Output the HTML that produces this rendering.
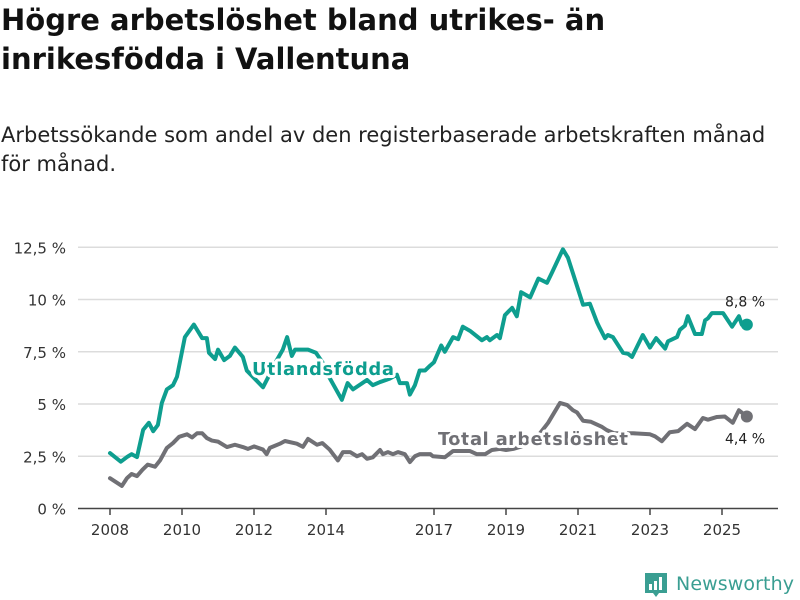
<!DOCTYPE html>
<html><head><meta charset="utf-8"><style>
body{margin:0;background:#fff;font-family:"DejaVu Sans","Liberation Sans",sans-serif;}
#wrap{position:relative;width:800px;height:600px;overflow:hidden;}
h1{position:absolute;left:1px;top:1px;margin:0;font-size:29px;line-height:39px;font-weight:bold;color:#111;width:800px;white-space:nowrap}
.sub{position:absolute;left:1px;top:121px;margin:0;font-size:21px;line-height:29px;color:#222;width:800px;white-space:nowrap}
svg{position:absolute;left:0;top:0;font-family:"DejaVu Sans","Liberation Sans",sans-serif}
</style></head><body><div id="wrap">
<h1>Högre arbetslöshet bland utrikes- än<br>inrikesfödda i Vallentuna</h1>
<p class="sub">Arbetssökande som andel av den registerbaserade arbetskraften månad<br>för månad.</p>
<svg id="chart" width="800" height="600"></svg>
</div>
<script>
const yTicks=[0,2.5,5,7.5,10,12.5];
const yTickLabels=["0 %","2,5 %","5 %","7,5 %","10 %","12,5 %"];
const xTicks=[2008,2010,2012,2014,2017,2019,2021,2023,2025];
const foreignDates=[2008.0,2008.3,2008.47,2008.6,2008.75,2008.92,2009.08,2009.2,2009.33,2009.44,2009.58,2009.75,2009.86,2010.08,2010.33,2010.56,2010.69,2010.75,2010.92,2011.0,2011.17,2011.33,2011.47,2011.69,2011.8,2011.97,2012.25,2012.4,2012.6,2012.8,2012.92,2013.05,2013.14,2013.5,2013.72,2013.9,2014.1,2014.44,2014.6,2014.75,2015.14,2015.3,2015.5,2015.75,2015.97,2016.05,2016.25,2016.33,2016.47,2016.6,2016.75,2016.9,2017.0,2017.2,2017.3,2017.53,2017.67,2017.8,2018.0,2018.33,2018.47,2018.55,2018.75,2018.83,2018.97,2019.17,2019.3,2019.42,2019.67,2019.9,2020.14,2020.28,2020.58,2020.72,2020.86,2021.14,2021.33,2021.53,2021.6,2021.75,2021.83,2021.97,2022.25,2022.39,2022.5,2022.8,2023.0,2023.17,2023.42,2023.5,2023.75,2023.83,2023.97,2024.05,2024.25,2024.44,2024.53,2024.61,2024.72,2025.03,2025.28,2025.47,2025.55,2025.69];
const foreignValues=[2.65,2.24,2.46,2.6,2.46,3.76,4.1,3.7,4.0,5.05,5.7,5.9,6.3,8.2,8.8,8.15,8.15,7.45,7.15,7.6,7.1,7.3,7.7,7.25,6.6,6.3,5.8,6.3,7.0,7.6,8.2,7.3,7.6,7.6,7.45,7.0,6.25,5.2,6.0,5.7,6.15,5.9,6.05,6.2,6.4,6.0,6.0,5.45,5.9,6.6,6.6,6.85,7.0,7.8,7.5,8.2,8.1,8.7,8.5,8.05,8.2,8.05,8.3,8.15,9.25,9.6,9.2,10.35,10.1,11.0,10.8,11.3,12.4,12.0,11.25,9.75,9.8,8.9,8.65,8.15,8.3,8.2,7.45,7.4,7.25,8.3,7.7,8.15,7.65,8.0,8.2,8.55,8.75,9.2,8.35,8.35,9.0,9.1,9.35,9.35,8.7,9.2,8.8,8.8];
const totalDates=[2008.0,2008.33,2008.47,2008.6,2008.75,2008.9,2009.05,2009.25,2009.39,2009.58,2009.75,2009.92,2010.14,2010.28,2010.42,2010.56,2010.69,2010.83,2011.0,2011.25,2011.47,2011.69,2011.83,2012.0,2012.25,2012.35,2012.44,2012.72,2012.86,2013.19,2013.36,2013.5,2013.75,2013.9,2014.1,2014.33,2014.47,2014.67,2014.86,2015.0,2015.14,2015.3,2015.5,2015.58,2015.72,2015.86,2016.0,2016.19,2016.33,2016.47,2016.6,2016.9,2016.97,2017.3,2017.53,2018.0,2018.19,2018.42,2018.61,2018.83,2019.0,2019.2,2019.4,2019.67,2019.9,2020.17,2020.5,2020.7,2020.86,2020.97,2021.14,2021.36,2021.67,2021.8,2022.0,2022.25,2022.53,2023.0,2023.14,2023.33,2023.55,2023.78,2024.03,2024.25,2024.47,2024.61,2024.86,2025.08,2025.3,2025.47,2025.69];
const totalValues=[1.45,1.08,1.45,1.65,1.55,1.85,2.1,2.0,2.3,2.9,3.13,3.43,3.55,3.4,3.6,3.6,3.37,3.25,3.2,2.94,3.05,2.94,2.85,2.97,2.82,2.6,2.9,3.1,3.23,3.1,2.95,3.33,3.05,3.13,2.82,2.3,2.7,2.7,2.5,2.6,2.38,2.45,2.8,2.6,2.7,2.6,2.7,2.6,2.22,2.5,2.6,2.6,2.5,2.45,2.75,2.75,2.6,2.6,2.8,2.85,2.8,2.85,2.95,3.13,3.5,4.1,5.05,4.95,4.7,4.6,4.2,4.15,3.9,3.75,3.6,3.6,3.6,3.55,3.45,3.22,3.65,3.7,4.05,3.8,4.33,4.25,4.38,4.4,4.1,4.7,4.4];
const TEAL="#0e9e8f",GREY="#707075";
const svg=document.getElementById('chart');const NS="http://www.w3.org/2000/svg";
const xS=t=>110+(t-2008)*36;const yS=v=>508.5-v*20.9;
function mk(tag,attrs,parent){const e=document.createElementNS(NS,tag);for(const k in attrs)e.setAttribute(k,attrs[k]);(parent||svg).appendChild(e);return e;}
yTicks.forEach((v,i)=>{
 if(v>0){const g=mk('line',{x1:78,x2:778,y1:yS(v),y2:yS(v),stroke:'#dcdcdc','stroke-width':1.5});
 
 }
 const t=mk('text',{x:66,y:yS(v)+6,'text-anchor':'end','font-size':15,fill:'#333'});t.textContent=yTickLabels[i];
 
 
});
const ax=mk('line',{x1:78,x2:778,y1:508.5,y2:508.5,stroke:'#444','stroke-width':1.5});


xTicks.forEach(yr=>{
 const tk=mk('line',{x1:xS(yr),x2:xS(yr),y1:508.5,y2:515,stroke:'#444','stroke-width':1.5});
 
 
 const t=mk('text',{x:xS(yr),y:535,'text-anchor':'middle','font-size':15,fill:'#333'});t.textContent=yr;
 
 
});
function line(d,v,c,name){
 const p=mk('polyline',{points:d.map((t,i)=>xS(t)+','+yS(v[i])).join(' '),fill:'none',stroke:c,'stroke-width':4,'stroke-linejoin':'round','stroke-linecap':'round'});
 
 
}
line(totalDates,totalValues,GREY,'line-total');
line(foreignDates,foreignValues,TEAL,'line-foreign-born');
const lf=foreignDates.length-1,lt=totalDates.length-1;
const d1=mk('circle',{cx:xS(foreignDates[lf]),cy:yS(foreignValues[lf]),r:6,fill:TEAL});


const d2=mk('circle',{cx:xS(totalDates[lt]),cy:yS(totalValues[lt]),r:6,fill:GREY});


const v1=mk('text',{x:745,y:yS(foreignValues[lf])-18,'text-anchor':'middle','font-size':14,fill:'#222'});v1.textContent=String(foreignValues[lf]).replace('.',',')+' %';


const v2=mk('text',{x:745,y:yS(totalValues[lt])+27,'text-anchor':'middle','font-size':14,fill:'#222'});v2.textContent=String(totalValues[lt]).replace('.',',')+' %';


const l1=mk('text',{x:252,y:375,'font-size':18,'font-weight':'bold',fill:TEAL,stroke:'#fff','stroke-width':6,'paint-order':'stroke','stroke-linejoin':'round',textLength:142});l1.textContent='Utlandsfödda';


const l2=mk('text',{x:438,y:445,'font-size':18,'font-weight':'bold',fill:GREY,stroke:'#fff','stroke-width':6,'paint-order':'stroke','stroke-linejoin':'round',textLength:190});l2.textContent='Total arbetslöshet';


const lg=mk('g',{});


mk('path',{d:'M645 573 h22 v20 h-8 l-3 4 l-3 -4 h-8 z',fill:'#3a9e92'},lg);
mk('rect',{x:649,y:584,width:3,height:6,fill:'#fff'},lg);
mk('rect',{x:654,y:581,width:3,height:9,fill:'#fff'},lg);
mk('rect',{x:659,y:577,width:3,height:13,fill:'#fff'},lg);
const lt2=mk('text',{x:676,y:590,'font-size':19,fill:'#3a9e92',textLength:118},lg);lt2.textContent='Newsworthy';
</script></body></html>
